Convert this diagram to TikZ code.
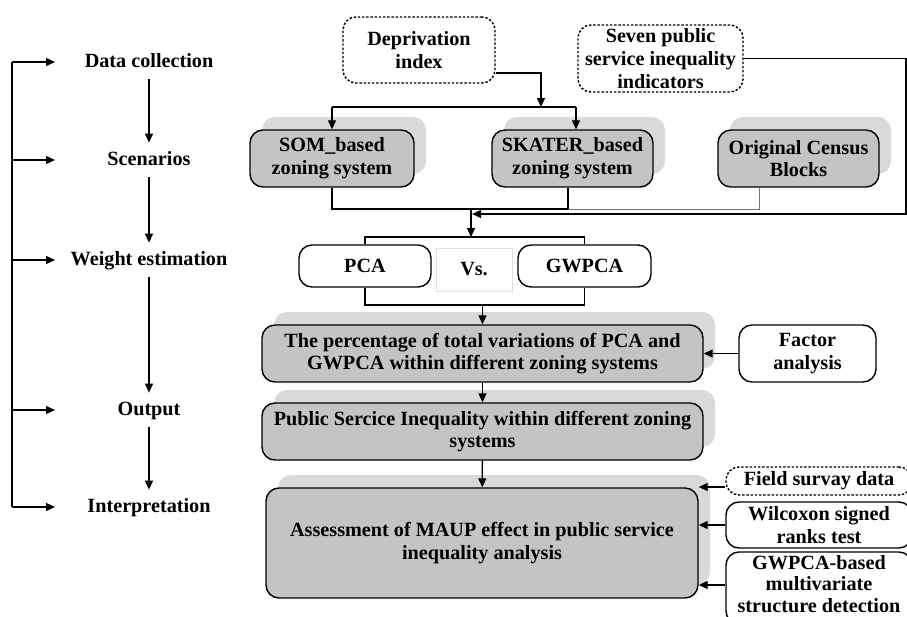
\documentclass[tikz,border=0pt]{standalone}
\usepackage{fontspec}
\setmainfont{Liberation Serif}
\usetikzlibrary{arrows.meta,shadows}
\definecolor{boxgray}{HTML}{C4C4C4}
\definecolor{shadegray}{HTML}{D9D9D9}
\begin{document}
\begin{tikzpicture}[x=0.5pt,y=-0.5pt,
 every node/.style={font=\fontsize{10.1pt}{11.3pt}\selectfont\bfseries,align=center},
 link/.style={line width=0.65pt},
 arrow/.style={link,-{Triangle[length=4.5pt,width=4pt]}},
 zone/.style={draw,line width=0.7pt,rounded corners=6.5pt,fill=boxgray,inner sep=0pt,
   drop shadow={shadow xshift=6pt,shadow yshift=6.5pt,fill=shadegray,opacity=1}},
 method/.style={draw,line width=0.7pt,rounded corners=6.5pt,fill=white,inner sep=0pt},
 source/.style={method,dash pattern=on 1.2pt off 0.9pt},
 stage/.style={inner sep=4pt,text height=7pt,text depth=2pt}]
\useasboundingbox (0,0) rectangle (907,617);
% stages on the left
\node[stage] (collect) at (149,62) {Data collection};
\node[stage] (scen) at (149,160) {Scenarios};
\node[stage] (weight) at (149,260) {Weight estimation};
\node[stage] (output) at (149,410) {Output};
\node[stage] (interp) at (149,507) {Interpretation};
\coordinate (railtop) at (12,62);
\coordinate (railbot) at (12,507);
\coordinate (railtip) at (55,0);
\draw[link] (railtop) -- (railbot);
\foreach \s in {collect,scen,weight,output,interp}
  \draw[arrow] (railtop |- \s) -- (railtip |- \s);
\foreach \a/\b in {collect/scen,scen/weight,weight/output,output/interp}
  \draw[arrow] (\a) -- (\b);
% inputs
\node[source,minimum width=76pt,minimum height=33pt] (dep) at (419,50) {Deprivation\\index};
\node[source,minimum width=82.5pt,minimum height=33.5pt] (seven) at (660.5,58.5) {Seven public\\service inequality\\indicators};
% zoning systems
\node[zone,minimum width=82pt,minimum height=28.5pt] (som) at (332,158.5) {SOM\_based\\zoning system};
\node[zone,minimum width=80.5pt,minimum height=28.5pt] (skater) at (572.5,158.5) {SKATER\_based\\zoning system};
\node[zone,minimum width=80.5pt,minimum height=28.5pt] (census) at (798.5,158.5) {Original Census\\Blocks};
% weights
\node[method,minimum width=66pt,minimum height=21pt] (pca) at (365,266) {PCA};
\node[draw=black!12,line width=0.4pt,minimum width=38pt,minimum height=21.5pt] (vs) at (474,269.5) {Vs.};
\node[method,minimum width=66.5pt,minimum height=21pt] (gwpca) at (584.5,266) {GWPCA};
% results
\node[zone,minimum width=220.5pt,minimum height=28.5pt] (share) at (482.5,353.5) {The percentage of total variations of PCA and\\GWPCA within different zoning systems};
\node[method,minimum width=68.5pt,minimum height=28.5pt] (factor) at (807.5,353.5) {Factor\\analysis};
\node[zone,minimum width=220.5pt,minimum height=28.5pt] (ineq) at (482.5,431.5) {Public Sercice Inequality within different zoning\\systems};
\node[zone,minimum width=216pt,minimum height=55pt] (maup) at (482,543) {Assessment of MAUP effect in public service\\inequality analysis};
\node[source,minimum width=93pt,minimum height=14pt] (field) at (819,481) {Field survay data};
\node[method,minimum width=93pt,minimum height=36pt] (gwbased) at (819,588) {};
\node[font=\fontsize{10.1pt}{10.8pt}\selectfont\bfseries,inner sep=0pt] (gwtext) at (819,584) {GWPCA-based\\multivariate\\structure detection};
\node[method,minimum width=93pt,minimum height=23pt] (wilcox) at (819,525) {Wilcoxon signed\\ranks test};
% connectors
\coordinate (busL) at (332,107);
\coordinate (busR) at (576,107);
\coordinate (depin) at (541,107);
\draw[arrow] ([yshift=-11.5pt]dep.east) -| (depin);
\draw[link] (busL) -- (busR);
\draw[arrow] (busL) -- (som.north);
\draw[arrow] (busR) -- (busR |- skater.north);
\coordinate (mergeL) at (332,209);
\coordinate (mergeR) at (568,209);
\coordinate (mergeO) at (759,209);
\coordinate (mergeM) at (471,209);
\draw[link] (som.south) -- (mergeL) -- (mergeR) -- (mergeR |- skater.south);
\draw[draw=black!55,line width=0.5pt] (mergeR) -- (mergeO) -- (mergeO |- census.south);
\coordinate (sevturn) at (906,214);
\coordinate (sevin) at (472,214);
\draw[arrow] (seven.east) -| (sevturn) -- (sevin);
\coordinate (pcain) at (471,237);
\draw[arrow] (mergeM) -- (pcain);
\draw[link] (pca.north) |- (pcain) -| (gwpca.north);
\coordinate (pcaout) at (482.5,305);
\draw[link] (pca.south) |- (pcaout) -| (gwpca.south);
\draw[arrow] (pcaout) -- (share.north);
\draw[arrow] (share) -- (ineq);
\draw[arrow] (ineq) -- (maup);
\draw[arrow] (factor) -- (share);
\draw[arrow] ([yshift=-3pt]field.west) -- ([yshift=-3pt]field.west -| maup.east);
\draw[arrow] (wilcox.west) -- (wilcox.west -| maup.east);
\draw[arrow] ([yshift=1.5pt]gwbased.west) -- ([yshift=1.5pt]gwbased.west -| maup.east);
\end{tikzpicture}
\end{document}
